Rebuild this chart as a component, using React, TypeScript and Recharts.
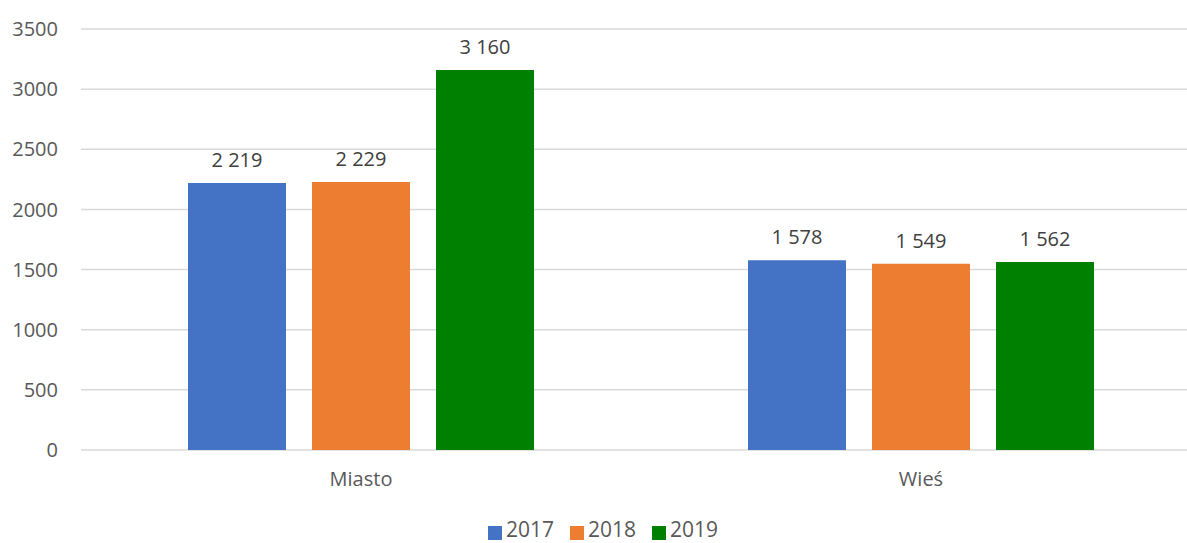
import React from 'react';
import { BarChart, Bar, XAxis, YAxis, CartesianGrid, Legend, LabelList } from 'recharts';

const categories = ['Miasto', 'Wieś'];
const values2017 = [2219, 1578];
const values2018 = [2229, 1549];
const values2019 = [3160, 1562];
const yTicks = [0, 500, 1000, 1500, 2000, 2500, 3000, 3500];

const data = categories.map((name, i) => ({
  name,
  y2017: values2017[i],
  y2018: values2018[i],
  y2019: values2019[i],
}));

const FONT = '"Open Sans", sans-serif';
const TEXT = '#595959';

const fmt = (v: any) => String(v).replace(/\B(?=(\d{3})+(?!\d))/g, ' ');

const labelStyle = { fill: '#404040', fontSize: 20, fontFamily: FONT };

const App: React.FC = () => {
  return (
    <div style={{ position: 'absolute', left: 0, top: 0, width: 1187, height: 543, overflow: 'hidden', background: '#fff' }}>
      <BarChart
        width={1201}
        height={543}
        data={data}
        margin={{ top: 29, right: 0, left: 21, bottom: 0 }}
        barSize={98}
        barGap={26}
      >
        <CartesianGrid vertical={false} stroke="#D9D9D9" strokeWidth={1.5} />
        <XAxis
          dataKey="name"
          axisLine={false}
          tickLine={false}
          tickMargin={16}
          height={65}
          tick={{ fill: TEXT, fontSize: 20, fontFamily: FONT }}
        />
        <YAxis
          width={60}
          domain={[0, 3500]}
          ticks={yTicks}
          axisLine={false}
          tickLine={false}
          tickMargin={17}
          tick={{ fill: TEXT, fontSize: 20, fontFamily: FONT }}
        />
        <Legend
          verticalAlign="bottom"
          align="center"
          iconType="square"
          iconSize={14}
          formatter={(value: string) => (
            <span style={{ color: TEXT, fontSize: 21, fontFamily: FONT, marginRight: 6 }}>{value}</span>
          )}
        />
        <Bar dataKey="y2017" name="2017" fill="#4472C4" isAnimationActive={false}>
          <LabelList dataKey="y2017" position="top" offset={16} formatter={fmt} style={labelStyle} />
        </Bar>
        <Bar dataKey="y2018" name="2018" fill="#ED7D31" isAnimationActive={false}>
          <LabelList dataKey="y2018" position="top" offset={16} formatter={fmt} style={labelStyle} />
        </Bar>
        <Bar dataKey="y2019" name="2019" fill="#008000" isAnimationActive={false}>
          <LabelList dataKey="y2019" position="top" offset={16} formatter={fmt} style={labelStyle} />
        </Bar>
      </BarChart>
    </div>
  );
};

export default App;
